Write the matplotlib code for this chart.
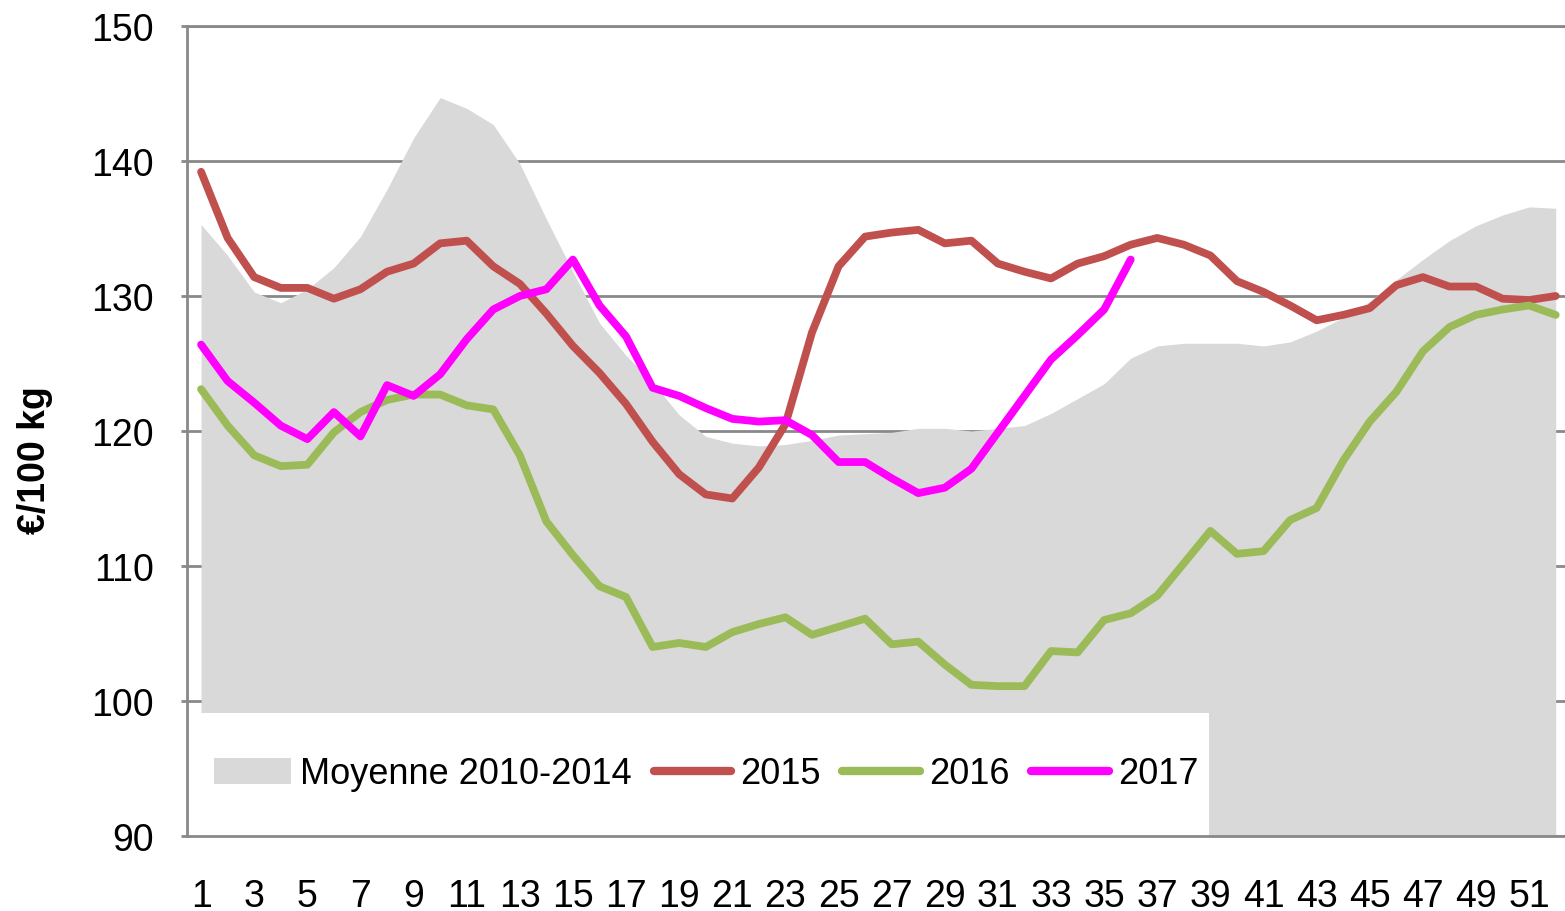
import matplotlib
matplotlib.use("Agg")
import matplotlib.pyplot as plt
from matplotlib.patches import Rectangle, Patch
from matplotlib.lines import Line2D
import numpy as np

# weekly prices, EUR / 100 kg
weeks = np.arange(1, 53)

moyenne = [135.3, 133.0, 130.3, 129.5, 130.5, 132.1, 134.4, 137.9, 141.7, 144.7,
           143.9, 142.7, 139.8, 135.7, 131.8, 128.0, 125.6, 123.6, 121.2, 119.6,
           119.1, 118.9, 119.0, 119.3, 119.7, 119.8, 119.9, 120.2, 120.2, 120.0,
           120.2, 120.4, 121.3, 122.4, 123.5, 125.4, 126.3, 126.5, 126.5, 126.5,
           126.3, 126.6, 127.4, 128.4, 129.6, 131.2, 132.7, 134.1, 135.2, 136.0,
           136.6, 136.5]

y2015 = [139.2, 134.3, 131.4, 130.6, 130.6, 129.8, 130.5, 131.8, 132.4, 133.9,
         134.1, 132.2, 130.9, 128.7, 126.3, 124.3, 122.0, 119.2, 116.8, 115.3,
         115.0, 117.3, 120.5, 127.3, 132.2, 134.4, 134.7, 134.9, 133.9, 134.1,
         132.4, 131.8, 131.3, 132.4, 132.95, 133.8, 134.3, 133.8, 133.0, 131.1,
         130.3, 129.3, 128.2, 128.6, 129.1, 130.8, 131.4, 130.7, 130.7, 129.8,
         129.7, 130.0]

y2016 = [123.1, 120.4, 118.2, 117.4, 117.5, 119.9, 121.4, 122.3, 122.7, 122.7,
         121.9, 121.6, 118.2, 113.3, 110.8, 108.5, 107.7, 104.0, 104.3, 104.0,
         105.1, 105.7, 106.2, 104.9, 105.5, 106.1, 104.2, 104.4, 102.7, 101.2,
         101.1, 101.1, 103.7, 103.6, 106.0, 106.5, 107.8, 110.2, 112.6, 110.9,
         111.1, 113.4, 114.3, 117.8, 120.7, 122.9, 125.9, 127.7, 128.6, 129.0,
         129.3, 128.6]

y2017 = [126.4, 123.7, 122.1, 120.4, 119.4, 121.4, 119.6, 123.4, 122.6, 124.2,
         126.8, 129.0, 130.0, 130.5, 132.7, 129.3, 127.0, 123.2, 122.6, 121.7,
         120.9, 120.7, 120.8, 119.7, 117.7, 117.7, 116.5, 115.4, 115.8, 117.2,
         119.9, 122.6, 125.3, 127.1, 129.0, 132.7]

labels = ["Moyenne 2010-2014", "2015", "2016", "2017"]
colors = ["#D9D9D9", "#C0504D", "#9BBB59", "#FF00FF"]
yticks = [90, 100, 110, 120, 130, 140, 150]
xticks = list(range(1, 53, 2))

plt.rcParams['font.family'] = ['Liberation Sans', 'DejaVu Sans']

fig = plt.figure(figsize=(15.65, 9.12), dpi=100)
ax = fig.add_axes([187 / 1565, 1 - 837 / 912, 1378 / 1565, 810 / 912])

grid_c = "#898989"
ax.set_axisbelow(True)
ax.yaxis.grid(True, color=grid_c, lw=2.0, zorder=0)
ax.xaxis.grid(False)

ax.fill_between(weeks, 90, moyenne, color=colors[0], lw=0, zorder=1)

# white legend box
ax.add_patch(Rectangle((0, 0), (1209 - 187) / 1378, (837 - 714) / 810,
                       transform=ax.transAxes, facecolor="white",
                       edgecolor="none", zorder=1.5))

kw = dict(lw=5.6, solid_capstyle="round", solid_joinstyle="round", zorder=3)
ax.plot(weeks, y2015, color=colors[1], **kw)
ax.plot(weeks, y2016, color=colors[2], **kw)
ax.plot(weeks[:len(y2017)], y2017, color=colors[3], **kw)

ax.set_xlim(0.47, 52.35)
ax.set_ylim(90, 150)
ax.set_yticks(yticks)
ax.set_xticks(xticks)
ax.tick_params(axis="y", length=4, width=2, color=grid_c, pad=20, labelsize=27)
ax.tick_params(axis="x", length=0, pad=30, labelsize=27)

for s in ["left", "bottom", "top"]:
    ax.spines[s].set_color(grid_c)
    ax.spines[s].set_linewidth(2.0)
ax.spines["right"].set_visible(False)

fig.text(35 / 1565, 1 - 460 / 912, "€/100 kg", rotation=90, fontsize=27,
         fontweight="bold", ha="center", va="center")

handles = [Patch(facecolor=colors[0], edgecolor="none"),
           Line2D([], [], color=colors[1], lw=6, solid_capstyle="round"),
           Line2D([], [], color=colors[2], lw=6, solid_capstyle="round"),
           Line2D([], [], color=colors[3], lw=6, solid_capstyle="round")]
leg = ax.legend(handles, labels, loc="center", ncol=4, frameon=False,
                bbox_to_anchor=((706 - 187) / 1378, (837 - 775) / 810),
                fontsize=26, handlelength=2.15, handleheight=0.7,
                handletextpad=0.25, columnspacing=0.6, borderaxespad=0)
leg.set_zorder(4)

fig.savefig("out.png", dpi=100)
